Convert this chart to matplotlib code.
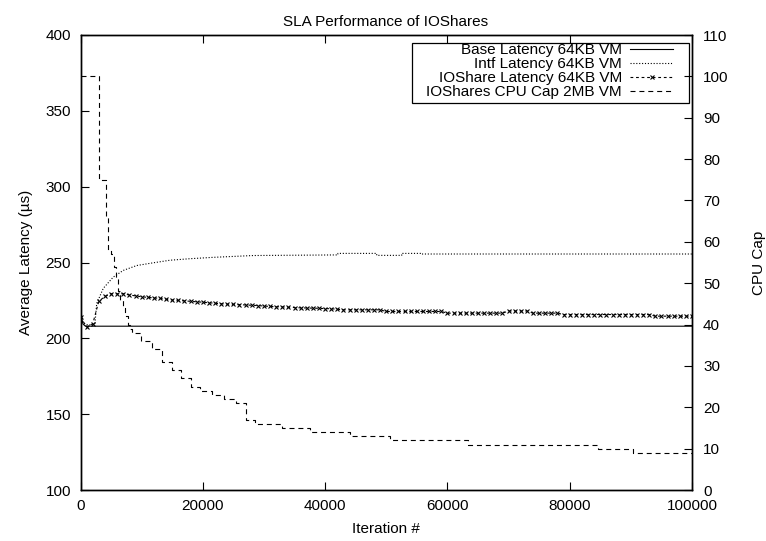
import matplotlib
matplotlib.use("Agg")
import matplotlib.pyplot as plt
from matplotlib.patches import Rectangle
import numpy as np

plt.rcParams['font.family'] = ['Liberation Sans', 'DejaVu Sans']
plt.rcParams['font.size'] = 11

# ---------------- data ----------------
iterations = list(range(0, 100001, 1000))
ioshare_latency = [
    214.0, 207.5, 209.5, 224.5, 227.6, 229.4, 229.4, 229.4, 228.6, 228.0,
    227.4, 227.0, 226.7, 226.3, 225.8, 225.3, 225.0, 224.7, 224.4, 224.1,
    223.8, 223.5, 223.1, 222.8, 222.6, 222.4, 222.2, 222.0, 221.8, 221.6,
    221.3, 221.0, 220.9, 220.7, 220.5, 220.3, 220.1, 220.0, 219.9, 219.8,
    219.6, 219.5, 219.2, 218.8, 218.8, 218.8, 218.8, 218.8, 218.8, 218.8,
    217.7, 217.7, 217.7, 217.7, 217.7, 217.7, 217.7, 217.7, 217.7, 217.7,
    216.6, 216.6, 216.6, 216.6, 216.6, 216.6, 216.6, 216.6, 216.6, 216.6,
    218.0, 218.0, 218.0, 218.0, 216.6, 216.6, 216.6, 216.6, 216.6, 215.7,
    215.7, 215.7, 215.7, 215.7, 215.7, 215.7, 215.7, 215.7, 215.7, 215.7,
    215.7, 215.7, 215.7, 215.7, 214.6, 214.6, 214.6, 214.6, 214.6, 214.6,
    214.6,
]

base_iter = [0, 150, 400, 800, 100000]
base_latency = [222.0, 214.0, 209.5, 208.0, 208.0]

intf_iter = [0, 500, 1000, 2000, 2370, 2650, 3730, 5360, 7000, 9190, 11900,
             14640, 17900, 20030, 21700, 28260, 42100, 42100, 48440, 48440,
             52530, 52530, 55800, 55800, 100000]
intf_latency = [215.0, 210.0, 209.0, 209.0, 210.0, 223.0, 233.0, 240.4, 244.8,
                248.0, 249.8, 251.5, 252.5, 253.0, 253.4, 254.6, 255.0, 256.0,
                256.0, 254.7, 254.7, 256.0, 256.0, 255.6, 255.6]

cap_iter = [0, 3000, 4100, 4500, 5000, 5400, 5800, 6100, 6500, 6900, 7300,
            7700, 8100, 8400, 9900, 11700, 13300, 15000, 16500, 18000, 19500,
            21500, 23500, 25500, 27000, 28500, 33000, 37500, 44000, 50600,
            63400, 84600, 90400, 100000]
cap_value = [100, 75, 66, 58, 57, 54, 51, 48, 46, 44, 42, 40, 39, 38, 36, 34,
             31, 29, 27, 25, 24, 23, 22, 21, 17, 16, 15, 14, 13, 12, 11, 10,
             9, 9]

latency_ticks = [100, 150, 200, 250, 300, 350, 400]
cap_ticks = list(range(0, 111, 10))
iter_ticks = [0, 20000, 40000, 60000, 80000, 100000]

# ---------------- figure ----------------
W, H = 766, 541
fig = plt.figure(figsize=(W / 100, H / 100), dpi=100)
L, R, T, B = 80.5, 692.0, 35.0, 490.0
ax = fig.add_axes([L / W, 1 - B / H, (R - L) / W, (B - T) / H])
ax2 = ax.twinx()

lw = 0.8
col = 'black'
l_base, = ax.plot(base_iter, base_latency, color=col, lw=lw, ls='-',
                  label='Base Latency 64KB VM')
l_intf, = ax.plot(intf_iter, intf_latency, color=col, lw=lw,
                  dashes=(1, 1.6), label='Intf Latency 64KB VM')
l_io, = ax.plot(iterations, ioshare_latency, color=col, lw=lw,
                dashes=(2.5, 2.5), marker='x', markersize=3.5,
                markeredgewidth=0.8, label='IOShare Latency 64KB VM')
l_cap, = ax2.plot(cap_iter, cap_value, color=col, lw=lw, dashes=(4.5, 3.5),
                  drawstyle='steps-post', label='IOShares CPU Cap 2MB VM')

ax.set_xlim(0, 100000)
ax.set_ylim(100, 400)
ax2.set_ylim(0, 110)
ax.set_xticks(iter_ticks)
ax.set_yticks(latency_ticks)
ax2.set_yticks(cap_ticks)

ax.tick_params(axis='x', direction='in', top=True, length=6, width=0.8,
               pad=6.3)
ax.tick_params(axis='y', direction='in', right=False, length=6, width=0.8,
               pad=6.8)
ax2.tick_params(axis='y', direction='in', length=6, width=0.8, pad=8)
for a in (ax, ax2):
    for s in a.spines.values():
        s.set_linewidth(1.0)

ax.set_xlabel('Iteration #', labelpad=6.8)
ax.set_ylabel('Average Latency (µs)', labelpad=9)
ax2.set_ylabel('CPU Cap', labelpad=17)
fig.text(386 / W, 1 - 22 / H, 'SLA Performance of IOShares',
         ha='center', va='center', fontsize=11)

# legend (gnuplot style: text right-aligned, sample on right)
handles = [l_base, l_intf, l_io, l_cap]
leg = ax2.legend(handles=handles, loc='upper right',
                 bbox_to_anchor=((673 - L) / (R - L), 1 - (43 - T) / (B - T)),
                 frameon=False, markerfirst=False, borderpad=0,
                 borderaxespad=0, handlelength=2.8, handletextpad=0.55,
                 labelspacing=0.0, fontsize=11)
ax2.add_patch(Rectangle(((411.7 - L) / (R - L), 1 - (102.7 - T) / (B - T)),
                        (689 - 411.7) / (R - L), (102.7 - 42.7) / (B - T),
                        transform=ax2.transAxes, fill=False, lw=0.9,
                        edgecolor='black', clip_on=False))

fig.savefig('out.png', dpi=100)
